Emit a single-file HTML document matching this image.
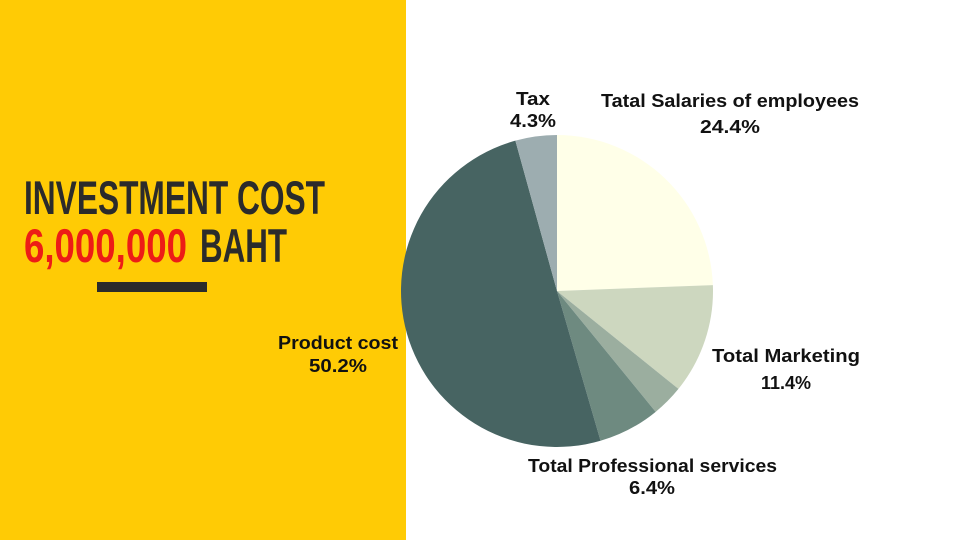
<!DOCTYPE html>
<html><head><meta charset="utf-8"><style>
html,body{margin:0;padding:0;width:960px;height:540px;overflow:hidden;background:#fff}
svg{display:block}
text{font-family:"Liberation Sans",sans-serif;font-weight:bold}
</style></head><body>
<svg width="960" height="540" viewBox="0 0 960 540">
<rect x="0" y="0" width="406" height="540" fill="#FFCB05"/>
<text x="24" y="214" font-size="47" fill="#2b2b2b" textLength="301" lengthAdjust="spacingAndGlyphs">INVESTMENT COST</text>
<text x="24" y="262" font-size="47" fill="#ED1C16" textLength="163" lengthAdjust="spacingAndGlyphs">6,000,000</text>
<text x="200" y="262" font-size="47" fill="#2b2b2b" textLength="87" lengthAdjust="spacingAndGlyphs">BAHT</text>
<rect x="97" y="282" width="110" height="10" fill="#2b2b2b"/>
<g id="pie"></g>
<g font-size="18" fill="#111" lengthAdjust="spacingAndGlyphs">
<text x="516" y="105" textLength="34" lengthAdjust="spacingAndGlyphs">Tax</text>
<text x="510" y="127" textLength="46" lengthAdjust="spacingAndGlyphs">4.3%</text>
<text x="601" y="107" textLength="258" lengthAdjust="spacingAndGlyphs">Tatal Salaries of employees</text>
<text x="700" y="133" textLength="60" lengthAdjust="spacingAndGlyphs">24.4%</text>
<text x="712" y="362" textLength="148" lengthAdjust="spacingAndGlyphs">Total Marketing</text>
<text x="761" y="389" textLength="50" lengthAdjust="spacingAndGlyphs">11.4%</text>
<text x="528" y="472" textLength="249" lengthAdjust="spacingAndGlyphs">Total Professional services</text>
<text x="629" y="494" textLength="46" lengthAdjust="spacingAndGlyphs">6.4%</text>
<text x="278" y="349" textLength="120" lengthAdjust="spacingAndGlyphs">Product cost</text>
<text x="309" y="372" textLength="58" lengthAdjust="spacingAndGlyphs">50.2%</text>
</g>
</svg>
<script>
const categories=["Salaries","Marketing","Other","Professional services","Product cost","Tax"];
const values=[24.4,11.4,3.3,6.4,50.2,4.3];
const colors=["#FFFFE8","#CDD7BF","#9BAE9F","#6E8A80","#476462","#9DADB0"];
const cx=557,cy=291,r=156;
const g=document.getElementById('pie');
const total=values.reduce((a,b)=>a+b,0);
let a0=0;
values.forEach((v,i)=>{
  const a1=a0+v/total*2*Math.PI;
  const x0=cx+r*Math.sin(a0),y0=cy-r*Math.cos(a0),x1=cx+r*Math.sin(a1),y1=cy-r*Math.cos(a1);
  const p=document.createElementNS('http://www.w3.org/2000/svg','path');
  p.setAttribute('d',`M${cx},${cy}L${x0},${y0}A${r},${r} 0 ${a1-a0>Math.PI?1:0} 1 ${x1},${y1}Z`);
  p.setAttribute('fill',colors[i]);
  
  
  g.appendChild(p);
  a0=a1;
});
</script>
</body></html>
